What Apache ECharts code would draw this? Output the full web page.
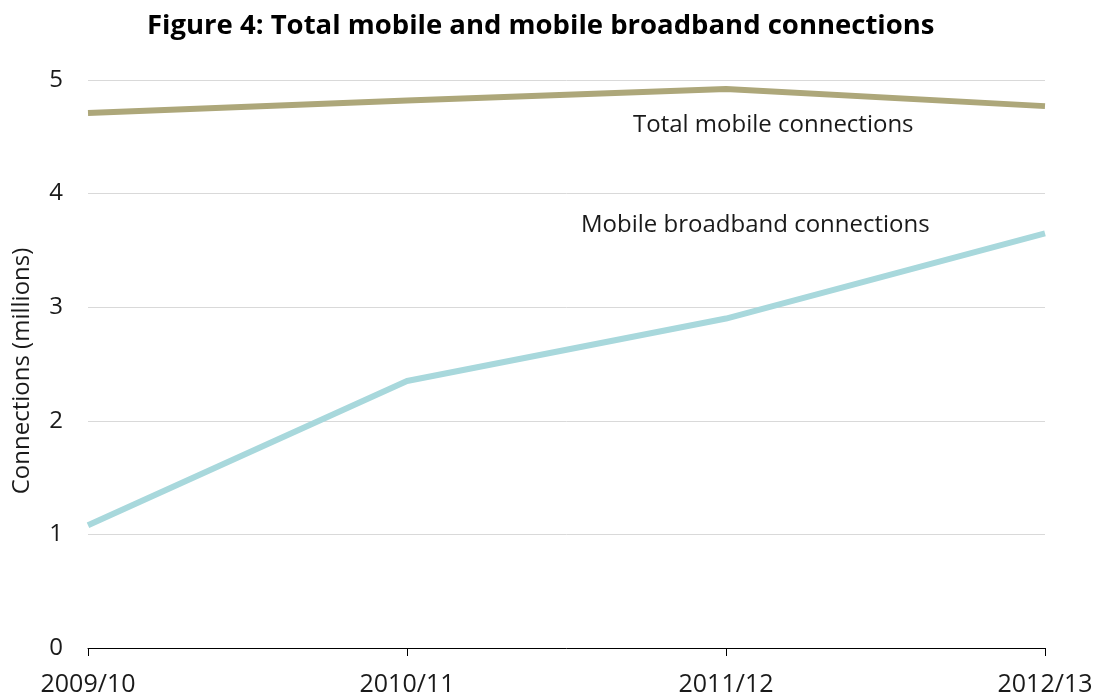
<!DOCTYPE html>
<html>
<head>
<meta charset="utf-8">
<script src="https://cdn.jsdelivr.net/npm/echarts@6/dist/echarts.min.js"></script>
<style>
  html, body { margin: 0; padding: 0; background: #fff; }
  #chart { width: 1099px; height: 699px; }
</style>
</head>
<body>
<div id="chart"></div>
<script>
// 数据
const years = ['2009/10', '2010/11', '2011/12', '2012/13']
const totalMobile = [4.71, 4.82, 4.92, 4.77]
const mobileBroadband = [1.08, 2.35, 2.90, 3.65]
const yTicks = [0, 1, 2, 3, 4, 5]

const FONT = 'Open Sans'

const chart = echarts.init(document.getElementById('chart'))
chart.setOption({
  animation: false,
  backgroundColor: '#fff',
  title: {
    text: 'Figure 4: Total mobile and mobile broadband connections',
    left: 142,
    top: 7,
    textStyle: { fontFamily: FONT, fontSize: 27.5, fontWeight: 'bold', color: '#000' }
  },
  grid: { left: 88, right: 54, top: 80, bottom: 51 },
  xAxis: {
    type: 'category',
    data: years,
    boundaryGap: false,
    axisLine: { lineStyle: { color: '#000', width: 1 } },
    axisTick: { show: true, inside: false, length: 8, lineStyle: { color: '#000' } },
    axisLabel: { color: '#1a1a1a', fontFamily: FONT, fontSize: 25, margin: 24 }
  },
  yAxis: {
    type: 'value',
    min: yTicks[0],
    max: yTicks[yTicks.length - 1],
    interval: 1,
    name: 'Connections (millions)',
    nameLocation: 'middle',
    nameGap: 54,
    nameTextStyle: { fontFamily: FONT, fontSize: 24, color: '#1a1a1a', padding: [0, 14, 0, 0] },
    axisLine: { show: false },
    axisTick: { show: false },
    axisLabel: { color: '#1a1a1a', fontFamily: FONT, fontSize: 24, margin: 25 },
    splitLine: { lineStyle: { color: '#d9d9d9', width: 1 } }
  },
  series: [
    {
      name: 'Total mobile connections',
      type: 'line',
      data: totalMobile,
      symbol: 'none',
      lineStyle: { color: '#ADA77A', width: 6 }
    },
    {
      name: 'Mobile broadband connections',
      type: 'line',
      data: mobileBroadband,
      symbol: 'none',
      lineStyle: { color: '#A8D8DC', width: 6 }
    }
  ],
  graphic: [
    {
      type: 'text', left: 633, top: 113,
      style: { text: 'Total mobile connections', fontFamily: FONT, fontSize: 24, fill: '#1a1a1a' }
    },
    {
      type: 'text', left: 581, top: 213,
      style: { text: 'Mobile broadband connections', fontFamily: FONT, fontSize: 24, fill: '#1a1a1a' }
    }
  ]
})
</script>
</body>
</html>
